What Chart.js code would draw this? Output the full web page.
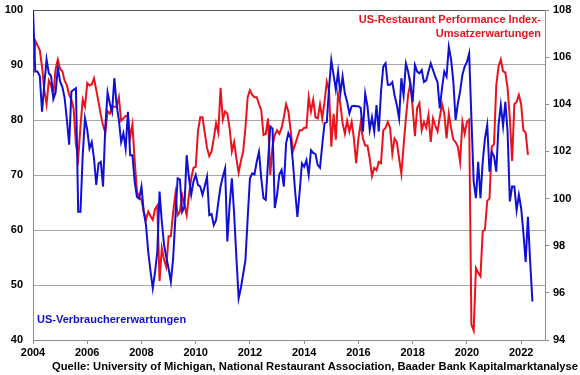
<!DOCTYPE html>
<html>
<head>
<meta charset="utf-8">
<script src="https://cdn.jsdelivr.net/npm/chart.js@4.4.1/dist/chart.umd.min.js"></script>
<style>
  html, body { margin: 0; padding: 0; background: #fff; }
</style>
</head>
<body>
<canvas id="chart" width="580" height="375"></canvas>
<script>
// Monthly values, first month = January 2004
const startYear = 2004;

// University of Michigan index of consumer expectations (left axis)
const consumerExpectations = [
    100, 88.8, 88.8, 88, 81.5, 86.5, 91, 88.5, 88, 83.8,
    85, 89.5, 87, 86, 84, 80, 75.5, 85.2, 85.5, 85.8,
    63.3, 63.3, 73.6, 80.3, 78.2, 74.8, 76, 73, 68.2, 72.1,
    72.4, 67.9, 78.8, 85, 83, 81.5, 87.6, 82.7, 80, 76,
    77.6, 74.8, 81.5, 73.6, 73.6, 68.8, 66, 65.7, 67.9, 63.3,
    60.9, 56, 52.5, 49.4, 52.4, 56, 67, 61.5, 57.3, 55,
    53, 50.6, 54.8, 62.2, 69.4, 69.2, 63.3, 64.2, 73.6, 69.5,
    66.4, 68.8, 70, 68.2, 67.9, 66.4, 68, 69.7, 62.7, 62.9,
    60.9, 61.8, 65, 67.9, 69.7, 71.2, 57.9, 64.5, 69.4, 63,
    55, 47.6, 49.5, 52, 54.5, 62.2, 69.4, 70.3, 70.1, 72.4,
    74.2, 69.4, 65.8, 65.5, 72.4, 78.8, 78.4, 64, 66.4, 70.1,
    70.9, 67.9, 75.8, 77.6, 76.7, 72.4, 67, 62.4, 67, 72.1,
    71.5, 72.7, 70, 74.5, 74, 73.8, 71.8, 71.3, 75.5, 79.4,
    79.6, 85.8, 90.9, 88.2, 85.5, 88.8, 84.8, 87.9, 84.8, 83.3,
    81.2, 82.5, 82.6, 82.5, 82.5, 82.2, 77.9, 84.8, 82.5, 78.2,
    80.5, 77.9, 82.7, 77.9, 85.2, 89.7, 90.3, 86.4, 86.4, 86.9,
    84.5, 82.7, 80.3, 87.6, 84.5, 90.3, 88.8, 86.4, 83.3, 90,
    88.8, 88.5, 89.1, 86.9, 87.2, 88.8, 90.3, 89.1, 87.9, 86.9,
    82.1, 85.8, 88.8, 87.9, 93.3, 91, 87, 80, 83, 85.2,
    88.2, 89.7, 90.5, 92.1, 80.3, 68.8, 65.8, 72.4, 65.8, 72.4,
    76.7, 79.1, 70.6, 74.2, 73.4, 70.6, 79.1, 82.7, 78.9, 83.3,
    77.9, 65.2, 67.9, 67.9, 63.6, 66.4, 64, 59.5, 54.2, 62.4,
    54.2, 47
];

// Restaurant Performance Index, sales expectations (right axis)
const restaurantExpectations = [
    105.2, 106.7, 106.5, 106.3, 105.6, 104.6, 104.0, 105.0, 104.8, 104.4,
    105.5, 105.9, 105.5, 105.4, 105.0, 104.8, 104.4, 104.2, 103.8, 102.3,
    101.7, 103.05, 104.2, 103.9, 104.9, 104.8, 104.85, 105.1, 104.6, 104.1,
    103.55, 103.1, 102.8, 103.7, 103.6, 103.9, 103.9, 103.9, 104.3, 103.3,
    103.4, 103.5, 103.5, 102.6, 103.15, 101.6, 100.3, 100.05, 99.95, 99.45,
    99.1, 99.45, 99.25, 99.1, 99.55, 99.7, 96.5, 97.9, 97.4, 97.1,
    98.4, 98.4, 99.4, 100.2, 99.3, 99.45, 100.15, 99.75, 99.3, 100.15,
    100.85, 101.3, 101.35, 102.85, 103.45, 103.45, 102.8, 102.15, 101.8, 102.0,
    102.55, 103.2, 102.8, 104.7, 103.35, 103.7, 103.6, 103.0, 102.0, 102.4,
    101.7, 101.1, 101.6, 102.0, 103.0, 104.3, 104.6, 104.4, 104.3, 104.3,
    104.0, 103.75, 102.7, 102.75, 103.4, 101.0, 102.25, 102.7, 102.9, 102.75,
    103.0, 103.45, 104.0, 103.7, 102.9, 102.0, 102.3, 102.6, 102.9, 102.9,
    103.0, 103.0, 104.3, 103.7, 104.2, 103.45, 103.4, 104.0, 103.4, 104.1,
    104.95, 104.6, 102.2, 103.6, 102.5, 104.45, 104.0, 103.2, 102.75, 103.3,
    102.85, 103.25, 102.55, 101.5, 102.55, 103.2, 102.55, 102.25, 102.25, 101.7,
    100.95, 101.3, 101.2, 101.55, 101.5, 102.9, 103.0, 103.25, 103.0, 101.9,
    102.55, 102.4, 101.7, 101.05, 102.25, 103.4, 104.4, 104.9, 103.85, 102.65,
    103.85, 104.05, 102.9, 103.25, 103.0, 103.55, 102.4, 103.4, 103.1, 102.85,
    103.45, 104.0, 103.6, 102.55, 103.6, 103.0, 102.5, 102.4, 102.2, 101.55,
    103.25, 102.75, 103.25, 103.35, 94.65, 94.4, 97.05, 96.85, 96.7, 98.6,
    98.7, 99.9, 100.0, 102.2, 102.3, 104.8, 105.6, 105.9, 105.4, 105.35,
    104.7, 103.4, 101.6, 104.0, 104.1, 104.4, 104.0, 102.9, 102.8, 101.85
];

const yearTicks = [2004, 2006, 2008, 2010, 2012, 2014, 2016, 2018, 2020, 2022];
const leftTicks = [40, 50, 60, 70, 80, 90, 100];
const rightTicks = [94, 96, 98, 100, 102, 104, 106, 108];

const redLabel = ['US-Restaurant Performance Index-', 'Umsatzerwartungen'];
const blueLabel = 'US-Verbrauchererwartungen';
const sourceText = 'Quelle: University of Michigan, National Restaurant Association, Baader Bank Kapitalmarktanalyse';

const RED = '#e8141b';
const BLUE = '#1010d4';
const AXIS_GREY = '#8c8c8c';
const FONT = '"Liberation Sans", Arial, sans-serif';

function toPoints(values) {
    return values.map((v, i) => ({ x: startYear + i / 12, y: v }));
}

function fixedTicks(list) {
    return scale => { scale.ticks = list.map(v => ({ value: v })); };
}

// fixed axis width, and no extra room above the top label
function fitVertical(width) {
    return scale => {
        scale.width = width;
        scale.paddingTop = 0;
        scale.paddingBottom = 0;
    };
}

// text labels inside the plot and the source line
const textPlugin = {
    id: 'chartText',
    afterDraw(chart) {
        const { ctx, chartArea } = chart;
        ctx.save();
        ctx.font = 'bold 11px ' + FONT;
        ctx.textBaseline = 'middle';

        ctx.fillStyle = RED;
        ctx.textAlign = 'right';
        ctx.fillText(redLabel[0], chartArea.right - 4, chartArea.top + 10, 190);
        ctx.fillText(redLabel[1], chartArea.right - 4, chartArea.top + 24, 120);

        ctx.fillStyle = BLUE;
        ctx.textAlign = 'left';
        ctx.fillText(blueLabel, chartArea.left + 4, chartArea.bottom - 20, 152);

        ctx.fillStyle = '#000';
        ctx.textAlign = 'right';
        ctx.font = 'bold 11.4px ' + FONT;
        ctx.fillText(sourceText, chart.width - 2, chart.height - 8, 526);
        ctx.restore();
    }
};

new Chart(document.getElementById('chart'), {
    type: 'line',
    data: {
        datasets: [
            {
                label: 'Restaurant',
                data: toPoints(restaurantExpectations),
                yAxisID: 'y1',
                borderColor: RED,
                borderWidth: 2,
                pointRadius: 0,
                tension: 0,
                order: 2,
            },
            {
                label: 'Verbraucher',
                data: toPoints(consumerExpectations),
                yAxisID: 'y',
                borderColor: BLUE,
                borderWidth: 2,
                pointRadius: 0,
                tension: 0,
                order: 1,
            },
        ],
    },
    options: {
        responsive: false,
        animation: false,
        layout: { padding: { top: 10, bottom: 17, left: 0, right: 0 } },
        plugins: {
            legend: { display: false },
            tooltip: { enabled: false },
        },
        scales: {
            x: {
                type: 'linear',
                min: 2004,
                max: 2022.88,
                afterBuildTicks: fixedTicks(yearTicks),
                afterFit: scale => { scale.height = 18; },
                ticks: {
                    color: '#000',
                    font: { family: FONT, size: 11, weight: 'bold' },
                    padding: 2,
                    maxRotation: 0,
                    autoSkip: false,
                    callback: v => String(v),
                },
                grid: { drawOnChartArea: false, tickLength: 4, color: AXIS_GREY },
                border: { color: AXIS_GREY },
            },
            y: {
                position: 'left',
                min: 40,
                max: 100,
                afterBuildTicks: fixedTicks(leftTicks),
                afterFit: fitVertical(33),
                ticks: {
                    color: '#000',
                    font: { family: FONT, size: 11, weight: 'bold' },
                    padding: 10,
                },
                grid: {
                    drawTicks: false,
                    color: ctx => (ctx.tick && ctx.tick.value === 100 ? '#5a5a5a' : '#a8a8a8'),
                },
                border: { color: AXIS_GREY },
            },
            y1: {
                position: 'right',
                min: 94,
                max: 108,
                afterBuildTicks: fixedTicks(rightTicks),
                afterFit: fitVertical(35),
                ticks: {
                    color: '#000',
                    font: { family: FONT, size: 11, weight: 'bold' },
                    padding: 4,
                },
                grid: { drawOnChartArea: false, tickLength: 4, color: AXIS_GREY },
                border: { color: AXIS_GREY },
            },
        },
    },
    plugins: [textPlugin],
});
</script>
</body>
</html>
